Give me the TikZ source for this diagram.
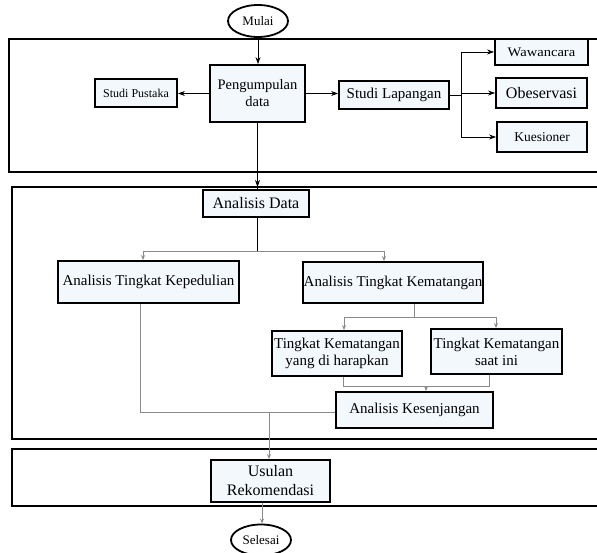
\documentclass[tikz,border=0pt]{standalone}
\usepackage{fontspec}
\setmainfont{Liberation Serif}
\newfontfamily\widefont[FakeStretch=1.12]{Liberation Serif}
\usetikzlibrary{arrows.meta,shapes.geometric}
\definecolor{boxfill}{HTML}{F3F8FC}
\definecolor{conngray}{HTML}{8A8A8A}
\tikzset{
  stepbox/.style={draw=black,line width=1.8pt,fill=boxfill,inner sep=0pt,align=center},
  termnode/.style={draw=black,line width=1.8pt,fill=white,ellipse,inner sep=0pt,font=\fontsize{13}{14}\selectfont},
  frame/.style={draw=black,line width=1.8pt},
  blackarrow/.style={draw=black,line width=0.9pt,-{Stealth[length=7pt,width=5pt]}},
  blackline/.style={draw=black,line width=0.9pt},
  grayarrow/.style={draw=conngray,line width=0.9pt,-{Stealth[length=5pt,width=4pt]}},
  grayline/.style={draw=conngray,line width=0.9pt},
  fbig/.style={font=\fontsize{15}{17}\selectfont},
  fsmall/.style={font=\fontsize{12}{13}\selectfont}
}
\begin{document}
\begin{tikzpicture}[x=1pt,y=-1pt]
\useasboundingbox (0,0) rectangle (597,553);
% outer frames
\draw[frame] (605,39) -- (9,39) -- (9,172) -- (605,172);
\draw[frame] (605,187) -- (12,187) -- (12,439) -- (605,439);
\draw[frame] (605,449) -- (12,449) -- (12,506) -- (605,506);
\coordinate (b2top) at (0,187);
% nodes
\node[termnode,minimum width=60pt,minimum height=32pt] (mulai) at (258,21) {Mulai};
\node[stepbox,font=\fontsize{14.5}{17}\selectfont,minimum width=95pt,minimum height=57pt] (peng) at (257.5,93.5) {Pengumpulan\\data\hspace{1.3em}};
\node[stepbox,fsmall,minimum width=82pt,minimum height=28pt] (pustaka) at (136,93) {Studi Pustaka};
\node[stepbox,fbig,minimum width=110pt,minimum height=28pt] (lapangan) at (394,95) {Studi Lapangan};
\node[stepbox,font=\widefont\fontsize{13}{15}\selectfont,minimum width=93pt,minimum height=26pt] (wawancara) at (541.5,52) {Wawancara};
\node[stepbox,font=\fontsize{16}{18}\selectfont,minimum width=91pt,minimum height=30pt] (obeservasi) at (541.5,93) {Obeservasi};
\node[stepbox,font=\fontsize{13.5}{15}\selectfont,minimum width=90pt,minimum height=30pt] (kuesioner) at (542,137) {Kuesioner};
\node[stepbox,font=\fontsize{16}{18}\selectfont,minimum width=106pt,minimum height=27pt] (adata) at (256,203.5) {Analisis Data};
\node[stepbox,fbig,minimum width=181pt,minimum height=42pt] (kepedulian) at (148.5,282) {Analisis Tingkat Kepedulian};
\node[stepbox,fbig,minimum width=180pt,minimum height=41pt] (kematangan) at (393,282.5) {Analisis Tingkat Kematangan};
\node[stepbox,fbig,minimum width=130pt,minimum height=45pt] (harapkan) at (337,353.5) {Tingkat Kematangan\\yang di harapkan};
\node[stepbox,fbig,minimum width=131pt,minimum height=45pt] (saatini) at (496.5,351.5) {Tingkat Kematangan\\saat ini};
\node[stepbox,fbig,minimum width=157pt,minimum height=36pt] (kesenjangan) at (414.5,410) {Analisis Kesenjangan};
\node[stepbox,font=\fontsize{16}{19}\selectfont,minimum width=119pt,minimum height=42pt] (usulan) at (270.5,481) {Usulan\\Rekomendasi};
\node[termnode,minimum width=60pt,minimum height=31pt] (selesai) at (261,540) {Selesai};
% top section connectors
\draw[blackarrow] (mulai.south) -- (mulai.south |- peng.north);
\draw[blackarrow] (peng.west) -- (peng.west -| pustaka.east);
\draw[blackarrow] (peng.east) -- (peng.east -| lapangan.west);
\coordinate (br) at (461,95);
\draw[blackline] (lapangan.east |- br) -- (br);
\draw[blackline] (461,52) -- (461,137);
\draw[blackarrow] (461,52) -- (wawancara.west);
\draw[blackarrow] (461,93) -- (obeservasi.west);
\draw[blackarrow] (461,137) -- (kuesioner.west);
\draw[blackarrow] (peng.south) -- (peng.south |- b2top);
\draw[blackline] (peng.south |- b2top) -- (peng.south |- adata.north);
% analysis section
\coordinate (s1) at (257,251);
\draw[blackline] (adata.south -| s1) -- (s1);
\draw[grayline] (143,251) -- (384,251);
\draw[grayarrow] (143,251) -- (143,0 |- kepedulian.north);
\draw[grayarrow] (384,251) -- (384,0 |- kematangan.north);
\coordinate (s2) at (414,317);
\draw[grayline] (kematangan.south -| s2) -- (s2);
\draw[grayline] (344,317) -- (496,317);
\draw[grayarrow] (344,317) -- (344,0 |- harapkan.north);
\draw[grayarrow] (496,317) -- (496,0 |- saatini.north);
\coordinate (s3) at (426,386);
\draw[grayline] (343,0 |- harapkan.south) -- (343,386) -- (489,386) -- (489,0 |- saatini.south);
\draw[grayarrow] (s3) -- (s3 |- kesenjangan.north);
\coordinate (s4) at (140,412);
\draw[grayline] (140,0 |- kepedulian.south) -- (s4) -- (s4 -| kesenjangan.west);
\draw[grayarrow] (269,412) -- (269,0 |- usulan.north);
\draw[grayarrow] (262,0 |- usulan.south) -- (262,0 |- selesai.north);
\end{tikzpicture}
\end{document}
